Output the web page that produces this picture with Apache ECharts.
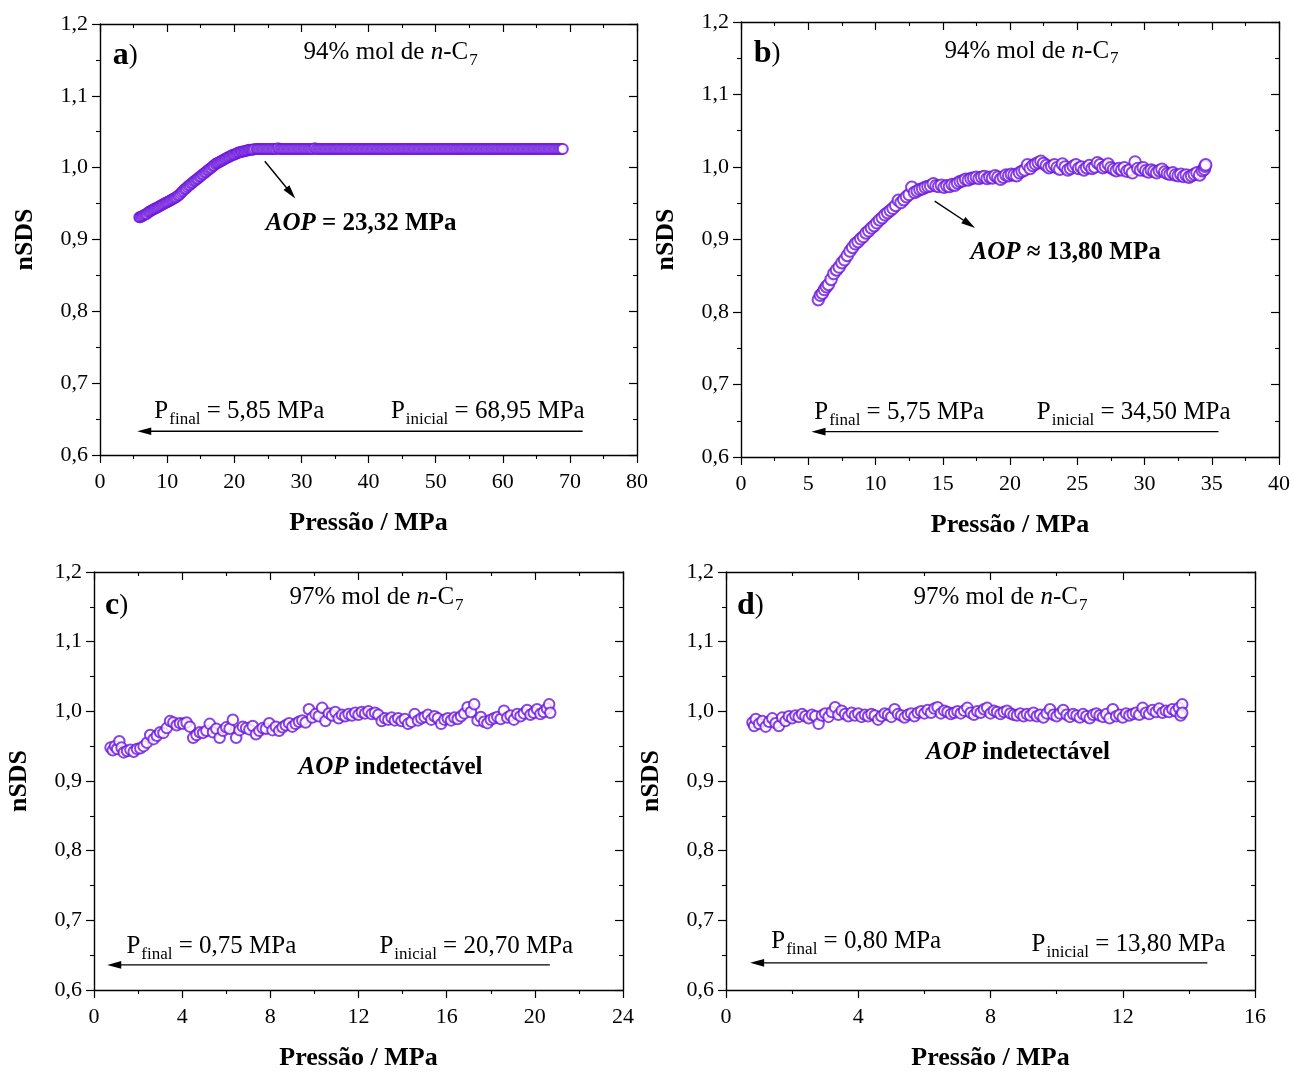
<!DOCTYPE html>
<html>
<head>
<meta charset="utf-8">
<script src="https://cdn.jsdelivr.net/npm/echarts@6/dist/echarts.min.js"></script>
<style>
  html, body { margin: 0; padding: 0; background: #fff; }
  #chart { width: 1293px; height: 1072px; }
</style>
</head>
<body>
<div id="chart"></div>
<script>
// nSDS versus pressure during depressurisation, four mixtures.
// Each point: [pressure (MPa), nSDS]

const pointsA = [
  [5.85,0.931],[6.0,0.931],[6.2,0.932],[6.4,0.933],[6.6,0.934],[6.8,0.935],[7.0,0.936],[7.2,0.938],[7.4,0.939],[7.6,0.940],
  [7.8,0.941],[8.0,0.942],[8.2,0.943],[8.4,0.944],[8.6,0.945],[8.8,0.946],[9.0,0.947],[9.2,0.948],[9.4,0.949],[9.6,0.950],
  [9.8,0.951],[10.0,0.952],[10.2,0.953],[10.4,0.954],[10.6,0.955],[10.8,0.956],[11.0,0.957],[11.2,0.958],[11.4,0.959],[11.6,0.961],
  [11.8,0.962],[12.0,0.964],[12.2,0.966],[12.4,0.968],[12.6,0.970],[12.8,0.971],[13.0,0.973],[13.2,0.975],[13.4,0.976],[13.6,0.978],
  [13.8,0.979],[14.0,0.981],[14.2,0.982],[14.4,0.984],[14.6,0.985],[14.8,0.987],[15.0,0.988],[15.2,0.990],[15.4,0.991],[15.6,0.993],
  [15.8,0.994],[16.0,0.996],[16.2,0.997],[16.4,0.999],[16.6,1.000],[16.8,1.002],[17.0,1.003],[17.2,1.005],[17.4,1.006],[17.6,1.007],
  [17.8,1.008],[18.0,1.009],[18.2,1.010],[18.4,1.011],[18.6,1.012],[18.8,1.013],[19.0,1.014],[19.2,1.015],[19.4,1.016],[19.6,1.017],
  [19.8,1.018],[20.0,1.018],[20.2,1.019],[20.4,1.020],[20.6,1.021],[20.8,1.021],[21.0,1.022],[21.2,1.022],[21.4,1.023],[21.6,1.023],
  [21.8,1.024],[22.0,1.024],[22.2,1.025],[22.4,1.025],[22.6,1.025],[22.8,1.025],[23.0,1.026],[23.32,1.026],[23.5,1.026],[23.75,1.026],
  [24.0,1.026],[24.25,1.026],[24.5,1.026],[24.75,1.026],
  [25,1.026],[25.25,1.026],[25.5,1.026],[25.75,1.026],[26,1.026],[26.25,1.026],[26.5,1.027],[26.75,1.026],[27,1.026],[27.25,1.026],
  [27.5,1.026],[27.75,1.026],[28,1.026],[28.25,1.026],[28.5,1.026],[28.75,1.026],[29,1.026],[29.25,1.026],[29.5,1.026],[29.75,1.026],
  [30,1.026],[30.25,1.026],[30.5,1.026],[30.75,1.026],[31,1.026],[31.25,1.026],[31.5,1.026],[31.75,1.026],[32,1.027],[32.25,1.026],
  [32.5,1.026],[32.75,1.026],[33,1.026],[33.25,1.026],[33.5,1.026],[33.75,1.026],[34,1.026],[34.25,1.026],[34.5,1.026],[34.75,1.026],
  [35,1.026],[35.25,1.026],[35.5,1.026],[35.75,1.026],[36,1.026],[36.25,1.026],[36.5,1.026],[36.75,1.026],[37,1.026],[37.25,1.026],
  [37.5,1.026],[37.75,1.026],[38,1.026],[38.25,1.026],[38.5,1.026],[38.75,1.026],[39,1.026],[39.25,1.026],[39.5,1.026],[39.75,1.026],
  [40,1.026],[40.25,1.026],[40.5,1.026],[40.75,1.026],[41,1.026],[41.25,1.026],[41.5,1.026],[41.75,1.026],[42,1.026],[42.25,1.026],
  [42.5,1.026],[42.75,1.026],[43,1.026],[43.25,1.026],[43.5,1.026],[43.75,1.026],[44,1.026],[44.25,1.026],[44.5,1.026],[44.75,1.026],
  [45,1.026],[45.25,1.026],[45.5,1.026],[45.75,1.026],[46,1.026],[46.25,1.026],[46.5,1.026],[46.75,1.026],[47,1.026],[47.25,1.026],
  [47.5,1.026],[47.75,1.026],[48,1.026],[48.25,1.026],[48.5,1.026],[48.75,1.026],[49,1.026],[49.25,1.026],[49.5,1.026],[49.75,1.026],
  [50,1.026],[50.25,1.026],[50.5,1.026],[50.75,1.026],[51,1.026],[51.25,1.026],[51.5,1.026],[51.75,1.026],[52,1.026],[52.25,1.026],
  [52.5,1.026],[52.75,1.026],[53,1.026],[53.25,1.026],[53.5,1.026],[53.75,1.026],[54,1.026],[54.25,1.026],[54.5,1.026],[54.75,1.026],
  [55,1.026],[55.25,1.026],[55.5,1.026],[55.75,1.026],[56,1.026],[56.25,1.026],[56.5,1.026],[56.75,1.026],[57,1.026],[57.25,1.026],
  [57.5,1.026],[57.75,1.026],[58,1.026],[58.25,1.026],[58.5,1.026],[58.75,1.026],[59,1.026],[59.25,1.026],[59.5,1.026],[59.75,1.026],
  [60,1.026],[60.25,1.026],[60.5,1.026],[60.75,1.026],[61,1.026],[61.25,1.026],[61.5,1.026],[61.75,1.026],[62,1.026],[62.25,1.026],
  [62.5,1.026],[62.75,1.026],[63,1.026],[63.25,1.026],[63.5,1.026],[63.75,1.026],[64,1.026],[64.25,1.026],[64.5,1.026],[64.75,1.026],
  [65,1.026],[65.25,1.026],[65.5,1.026],[65.75,1.026],[66,1.026],[66.25,1.026],[66.5,1.026],[66.75,1.026],[67,1.026],[67.25,1.026],
  [67.5,1.026],[67.75,1.026],[68,1.026],[68.25,1.026],[68.5,1.026],[68.75,1.026],[68.95,1.026]
];

const pointsB = [
  [5.75,0.817],[5.9,0.823],[6.05,0.826],[6.2,0.831],[6.35,0.835],[6.5,0.838],[6.7,0.845],[6.9,0.853],[7.1,0.858],[7.3,0.862],
  [7.5,0.868],[7.7,0.872],[7.9,0.878],[8.1,0.884],[8.3,0.889],[8.5,0.894],[8.7,0.897],[8.9,0.901],[9.1,0.904],[9.3,0.909],
  [9.5,0.912],[9.7,0.916],[9.9,0.919],[10.1,0.923],[10.3,0.927],[10.5,0.930],[10.7,0.934],[10.9,0.937],[11.1,0.940],[11.3,0.943],
  [11.5,0.947],[11.7,0.954],[11.9,0.951],[12.1,0.955],[12.3,0.959],[12.5,0.962],[12.7,0.972],[12.9,0.965],[13.1,0.967],[13.3,0.969],
  [13.5,0.970],[13.7,0.972],[13.9,0.973],[14.1,0.974],[14.3,0.977],[14.5,0.974],[14.7,0.973],[14.9,0.975],[15.1,0.972],[15.3,0.974],
  [15.5,0.973],[15.7,0.976],[15.9,0.975],[16.1,0.978],[16.3,0.980],[16.5,0.981],[16.7,0.983],[16.9,0.982],[17.1,0.984],[17.3,0.985],
  [17.5,0.986],[17.7,0.984],[17.9,0.986],[18.1,0.987],[18.3,0.984],[18.5,0.986],[18.7,0.985],[18.9,0.988],[19.1,0.986],[19.3,0.983],
  [19.5,0.986],[19.7,0.989],[19.9,0.988],[20.1,0.990],[20.3,0.989],[20.5,0.988],[20.7,0.992],[20.9,0.994],[21.1,0.996],[21.3,1.003],
  [21.5,0.998],[21.7,1.002],[21.9,1.004],[22.1,1.006],[22.3,1.008],[22.5,1.005],[22.7,1.002],[22.9,0.999],[23.1,1.001],[23.3,1.003],
  [23.5,0.999],[23.7,0.997],[23.9,1.004],[24.1,1.000],[24.3,0.996],[24.5,0.998],[24.7,1.001],[24.9,1.003],[25.1,0.998],[25.3,1.000],
  [25.5,0.996],[25.7,0.999],[25.9,1.002],[26.1,0.998],[26.3,1.000],[26.5,1.006],[26.7,1.003],[26.9,0.999],[27.1,1.001],[27.3,1.004],
  [27.5,0.999],[27.7,0.997],[27.9,0.995],[28.1,0.998],[28.3,0.996],[28.5,0.999],[28.7,0.994],[28.9,0.996],[29.1,0.992],[29.3,1.007],
  [29.5,0.998],[29.7,0.996],[29.9,0.999],[30.1,0.995],[30.3,0.993],[30.5,0.996],[30.7,0.994],[30.9,0.992],[31.1,0.995],[31.3,0.997],
  [31.5,0.993],[31.7,0.991],[31.9,0.990],[32.1,0.992],[32.3,0.989],[32.5,0.988],[32.7,0.990],[32.9,0.987],[33.1,0.989],[33.3,0.986],
  [33.5,0.988],[33.7,0.990],[33.9,0.992],[34.1,0.989],[34.3,0.995],[34.45,0.997],[34.5,1.001],[34.55,1.003]
];

const pointsC = [
  [0.75,0.948],[0.85,0.944],[0.95,0.950],[1.05,0.946],[1.15,0.957],[1.25,0.948],[1.35,0.941],[1.5,0.943],[1.65,0.945],[1.8,0.942],
  [1.95,0.946],[2.1,0.947],[2.25,0.950],[2.4,0.955],[2.55,0.966],[2.7,0.960],[2.85,0.965],[3.0,0.970],[3.15,0.969],[3.3,0.976],
  [3.45,0.986],[3.6,0.984],[3.75,0.980],[3.9,0.983],[4.05,0.982],[4.2,0.984],[4.35,0.978],[4.5,0.962],[4.65,0.966],[4.8,0.970],
  [4.95,0.969],[5.1,0.972],[5.25,0.982],[5.4,0.970],[5.55,0.975],[5.7,0.962],[5.85,0.972],[6.0,0.977],[6.15,0.975],[6.3,0.988],
  [6.45,0.962],[6.6,0.973],[6.75,0.978],[6.9,0.976],[7.05,0.974],[7.2,0.979],[7.35,0.967],[7.5,0.972],[7.65,0.976],[7.8,0.975],
  [7.95,0.983],[8.1,0.973],[8.25,0.978],[8.4,0.972],[8.55,0.977],[8.7,0.980],[8.85,0.983],[9.0,0.978],[9.15,0.982],[9.3,0.985],
  [9.45,0.987],[9.6,0.984],[9.75,1.003],[9.9,0.991],[10.05,0.996],[10.2,0.993],[10.35,1.005],[10.5,0.986],[10.65,0.997],[10.8,0.994],
  [10.95,0.999],[11.1,0.990],[11.25,0.995],[11.4,0.993],[11.55,0.996],[11.7,0.994],[11.85,0.998],[12.0,0.995],[12.15,0.999],[12.3,0.997],
  [12.45,1.000],[12.6,0.996],[12.75,0.998],[12.9,0.995],[13.05,0.986],[13.2,0.990],[13.35,0.988],[13.5,0.991],[13.65,0.987],[13.8,0.990],
  [13.95,0.986],[14.1,0.989],[14.25,0.982],[14.4,0.985],[14.55,0.996],[14.7,0.987],[14.85,0.990],[15.0,0.992],[15.15,0.995],[15.3,0.988],
  [15.45,0.993],[15.6,0.990],[15.75,0.982],[15.9,0.988],[16.05,0.990],[16.2,0.987],[16.35,0.991],[16.5,0.989],[16.65,0.993],[16.8,0.997],
  [16.95,1.006],[17.1,0.999],[17.25,1.010],[17.4,0.987],[17.55,0.992],[17.7,0.985],[17.85,0.983],[18.0,0.988],[18.15,0.990],[18.3,0.992],
  [18.45,0.989],[18.6,1.001],[18.75,0.991],[18.9,0.994],[19.05,0.988],[19.2,0.996],[19.35,0.993],[19.5,0.997],[19.65,1.002],[19.8,0.995],
  [19.95,0.998],[20.1,1.003],[20.25,0.996],[20.4,0.999],[20.55,1.004],[20.65,1.010],[20.7,0.998]
];

const pointsD = [
  [0.8,0.984],[0.85,0.979],[0.9,0.989],[1.0,0.982],[1.1,0.986],[1.2,0.978],[1.3,0.985],[1.4,0.990],[1.5,0.983],[1.6,0.979],
  [1.7,0.991],[1.8,0.986],[1.9,0.993],[2.0,0.990],[2.1,0.994],[2.2,0.992],[2.3,0.996],[2.4,0.993],[2.5,0.990],[2.6,0.995],
  [2.7,0.993],[2.8,0.982],[2.9,0.994],[3.0,0.997],[3.1,0.992],[3.2,0.999],[3.3,1.006],[3.4,0.995],[3.5,1.001],[3.6,0.996],
  [3.7,0.993],[3.8,0.998],[3.9,0.994],[4.0,0.997],[4.1,0.992],[4.2,0.995],[4.3,0.993],[4.4,0.996],[4.5,0.994],[4.6,0.988],
  [4.7,0.993],[4.8,0.997],[4.9,0.995],[5.0,0.992],[5.1,1.003],[5.2,0.996],[5.3,0.994],[5.4,0.991],[5.5,0.995],[5.6,0.997],
  [5.7,0.993],[5.8,0.998],[5.9,1.000],[6.0,0.997],[6.1,1.002],[6.2,0.998],[6.3,1.004],[6.4,1.006],[6.5,0.997],[6.6,1.001],
  [6.7,0.999],[6.8,0.996],[6.9,0.998],[7.0,1.000],[7.1,0.997],[7.2,1.001],[7.3,1.005],[7.4,0.998],[7.5,0.995],[7.6,1.000],
  [7.7,0.998],[7.8,1.003],[7.9,1.005],[8.0,0.997],[8.1,1.001],[8.2,0.999],[8.3,0.996],[8.4,0.999],[8.5,1.001],[8.6,0.997],
  [8.7,0.995],[8.8,0.994],[8.9,0.997],[9.0,0.993],[9.1,0.996],[9.2,0.994],[9.3,0.998],[9.4,0.993],[9.5,0.995],[9.6,0.991],
  [9.7,0.997],[9.8,1.003],[9.9,0.995],[10.0,0.993],[10.1,0.997],[10.2,1.002],[10.3,0.995],[10.4,0.992],[10.5,0.996],[10.6,0.994],
  [10.7,0.991],[10.8,0.996],[10.9,0.993],[11.0,0.990],[11.1,0.995],[11.2,0.997],[11.3,0.994],[11.4,0.992],[11.5,0.996],[11.6,0.990],
  [11.7,1.003],[11.8,0.993],[11.9,0.995],[12.0,0.991],[12.1,0.997],[12.2,0.994],[12.3,0.996],[12.4,0.998],[12.5,0.995],[12.6,1.005],
  [12.7,0.998],[12.8,0.996],[12.9,1.002],[13.0,0.999],[13.1,1.004],[13.2,0.998],[13.3,1.001],[13.4,0.999],[13.5,1.003],[13.6,1.000],
  [13.7,1.005],[13.75,0.994],[13.8,1.010],[13.8,0.998]
];

// Axis ranges per panel: [min, max, interval]
const xRanges = [[0, 80, 10], [0, 40, 5], [0, 24, 4], [0, 16, 4]];
const yRange = [0.6, 1.2, 0.1];

// Panel texts
const panelTags = ['a', 'b', 'c', 'd'];
const compositions = ['94', '94', '97', '97'];
const aopTexts = [' = 23,32 MPa', ' \u2248 13,80 MPa', ' indetect\u00e1vel', ' indetect\u00e1vel'];
const pFinalTexts = [' = 5,85 MPa', ' = 5,75 MPa', ' = 0,75 MPa', ' = 0,80 MPa'];
const pInitialTexts = [' = 68,95 MPa', ' = 34,50 MPa', ' = 20,70 MPa', ' = 13,80 MPa'];

const FONT = '"Liberation Serif", "Times New Roman", Times, serif';
const PURPLE = '#6c14dc';

// Layout of each panel (pixels) and placement of annotations (data units)
const layout = [
  { grid: { left: 100, top: 24, width: 537, height: 431 }, symbolSize: 10,
    tag: [1.9, 1.156], title: [43.3, 1.160], aop: [24.7, 0.922],
    pointer: [[24.55, 1.009], [29.1, 0.957]],
    pFinal: [8.1, 0.661], pInitial: [72.2, 0.661], flow: [[71.9, 0.633], [5.55, 0.633]] },
  { grid: { left: 741, top: 22, width: 538, height: 435 }, symbolSize: 11.5,
    tag: [0.95, 1.156], title: [21.6, 1.160], aop: [17.07, 0.882],
    pointer: [[14.4, 0.953], [17.4, 0.916]],
    pFinal: [5.45, 0.662], pInitial: [36.4, 0.662], flow: [[35.5, 0.635], [5.24, 0.635]] },
  { grid: { left: 94, top: 572, width: 529, height: 423 }, symbolSize: 10.5,
    tag: [0.5, 1.152], title: [12.82, 1.163], aop: [9.28, 0.919],
    pointer: null,
    pFinal: [1.47, 0.662], pInitial: [21.74, 0.662], flow: [[20.68, 0.636], [0.6, 0.636]] },
  { grid: { left: 726, top: 572, width: 529, height: 424 }, symbolSize: 10.5,
    tag: [0.33, 1.152], title: [8.3, 1.163], aop: [6.05, 0.941],
    pointer: null,
    pFinal: [1.37, 0.669], pInitial: [15.1, 0.665], flow: [[14.56, 0.639], [0.73, 0.639]] }
];

const seriesPoints = [pointsA, pointsB, pointsC, pointsD];

const black = '#000';
function baseAxis(min, max, interval) {
  return {
    type: 'value', min: min, max: max, interval: interval,
    splitLine: { show: false },
    axisLine: { show: true, onZero: false, lineStyle: { color: black, width: 1.4 } },
    axisTick: { show: true, length: 8, lineStyle: { color: black, width: 1.2 } },
    minorTick: { show: true, splitNumber: 2, length: 4, lineStyle: { color: black, width: 1.1 } },
    minorSplitLine: { show: false }
  };
}
const labelStyle = { fontFamily: FONT, fontSize: 22, color: black };
const nameStyle = { fontFamily: FONT, fontSize: 26, fontWeight: 'bold', color: black };

const grids = [], xAxes = [], yAxes = [], series = [];
layout.forEach(function (p, i) {
  grids.push(p.grid);
  const xr = xRanges[i];
  const bottom = baseAxis(xr[0], xr[1], xr[2]);
  Object.assign(bottom, {
    gridIndex: i, position: 'bottom',
    axisLabel: Object.assign({ margin: 16, formatter: function (v) { return String(Math.round(v)); } }, labelStyle),
    name: 'Press\u00e3o / MPa', nameLocation: 'middle', nameGap: 55, nameTextStyle: nameStyle
  });
  const top = baseAxis(xr[0], xr[1], xr[2]);
  Object.assign(top, { gridIndex: i, position: 'top', axisLabel: { show: false } });
  top.axisTick.inside = true;
  xAxes.push(bottom, top);

  const left = baseAxis(yRange[0], yRange[1], yRange[2]);
  Object.assign(left, {
    gridIndex: i, position: 'left',
    axisLabel: Object.assign({ margin: 12, formatter: function (v) { return v.toFixed(1).replace('.', ','); } }, labelStyle),
    name: 'nSDS', nameLocation: 'middle', nameGap: 62, nameTextStyle: nameStyle
  });
  const right = baseAxis(yRange[0], yRange[1], yRange[2]);
  Object.assign(right, { gridIndex: i, position: 'right', axisLabel: { show: false } });
  right.axisTick.inside = true;
  yAxes.push(left, right);

  series.push({
    type: 'scatter', xAxisIndex: 2 * i, yAxisIndex: 2 * i,
    data: seriesPoints[i], symbol: 'emptyCircle', symbolSize: p.symbolSize,
    itemStyle: { color: PURPLE, borderColor: PURPLE, borderWidth: 1.5 },
    silent: true
  });
});

const chart = echarts.init(document.getElementById('chart'), null, { renderer: 'canvas' });
chart.setOption({
  animation: false,
  backgroundColor: '#fff',
  grid: grids, xAxis: xAxes, yAxis: yAxes, series: series
});

// Annotations placed in data units through each panel's axes
function toPx(i, pt) { return chart.convertToPixel({ seriesIndex: i }, pt); }

function richBase(size, weight, style) {
  return { fontFamily: FONT, fontSize: size, fontWeight: weight || 'normal', fontStyle: style || 'normal', color: black };
}
const rich = {
  r: richBase(25),
  ri: richBase(25, 'normal', 'italic'),
  sub: Object.assign(richBase(17), { padding: [16, 0, 0, 1] }),
  b: richBase(25, 'bold'),
  bi: richBase(25, 'bold', 'italic'),
  tag: richBase(32, 'bold'),
  par: richBase(27)
};

function textEl(pos, text, align) {
  return {
    type: 'text', x: pos[0], y: pos[1], silent: true, z: 100,
    style: { text: text, rich: rich, align: align, verticalAlign: 'middle', fill: black,
             fontFamily: FONT, fontSize: 25 }
  };
}

function arrowEls(a, b) {
  const dx = b[0] - a[0], dy = b[1] - a[1];
  const len = Math.sqrt(dx * dx + dy * dy);
  const ux = dx / len, uy = dy / len;
  const nx = -uy, ny = ux;
  const L = 14, W = 3.8;
  const bx = b[0] - ux * L, by = b[1] - uy * L;
  return [
    { type: 'line', silent: true, z: 100,
      shape: { x1: a[0], y1: a[1], x2: bx + ux * 2, y2: by + uy * 2 },
      style: { stroke: black, lineWidth: 1.4 } },
    { type: 'polygon', silent: true, z: 100,
      shape: { points: [[b[0], b[1]], [bx + nx * W, by + ny * W], [bx - nx * W, by - ny * W]] },
      style: { fill: black } }
  ];
}

const graphics = [];
layout.forEach(function (p, i) {
  graphics.push(textEl(toPx(i, p.tag), '{tag|' + panelTags[i] + '}{par|)}', 'left'));
  graphics.push(textEl(toPx(i, p.title), '{r|' + compositions[i] + '% mol de }{ri|n}{r|-C}{sub|7}', 'center'));
  graphics.push(textEl(toPx(i, p.aop), '{bi|AOP}{b|' + aopTexts[i] + '}', 'left'));
  graphics.push(textEl(toPx(i, p.pFinal), '{r|P}{sub|final}{r|' + pFinalTexts[i] + '}', 'left'));
  graphics.push(textEl(toPx(i, p.pInitial), '{r|P}{sub|inicial}{r|' + pInitialTexts[i] + '}', 'right'));
  arrowEls(toPx(i, p.flow[0]), toPx(i, p.flow[1])).forEach(function (g) { graphics.push(g); });
  if (p.pointer) {
    arrowEls(toPx(i, p.pointer[0]), toPx(i, p.pointer[1])).forEach(function (g) { graphics.push(g); });
  }
});
chart.setOption({ graphic: graphics });
</script>
</body>
</html>
